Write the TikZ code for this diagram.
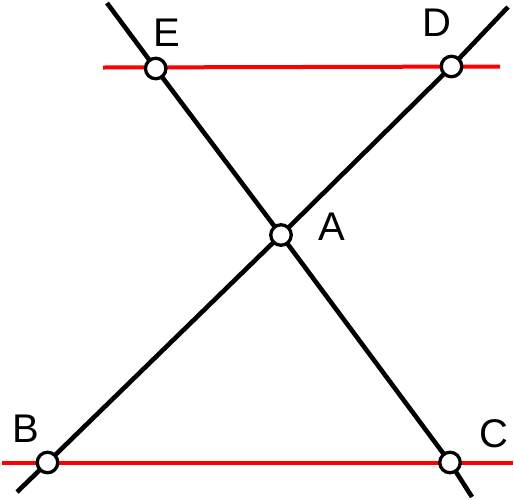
\documentclass[tikz,border=0pt]{standalone}
\usepackage{fontspec}
\setmainfont{Liberation Sans}
\begin{document}
\begin{tikzpicture}[x=1pt,y=-1pt,
  pt/.style={circle,draw=black,fill=white,line width=3.3pt,minimum size=20.5pt,inner sep=0pt},
  blk/.style={draw=black,line width=4.6pt},
  redl/.style={draw=red,line width=4pt},
  lbl/.style={font=\fontsize{40}{40}\selectfont,inner sep=0pt}]
\useasboundingbox (0,0) rectangle (514,499);
\coordinate (E) at (155.7,68.5);
\coordinate (D) at (451.5,66.5);
\coordinate (A) at (281,235);
\coordinate (B) at (47.5,462.5);
\coordinate (C) at (450,462.5);
\coordinate (t1) at (103,67.5);
\coordinate (t2) at (500,66.5);
\coordinate (b1) at (2,462.5);
\coordinate (b2) at (513,462.5);
\coordinate (l1a) at (17,492);
\coordinate (l1b) at (508,7);
\coordinate (l2a) at (107,3);
\coordinate (l2b) at (472,497);
\draw[redl] (t1) -- (t2);
\draw[redl] (b1) -- (b2);
\draw[blk] (l1a) -- (B) -- (A) -- (D) -- (l1b);
\draw[blk] (l2a) -- (E) -- (A) -- (C) -- (l2b);
\node[pt] (nE) at (E) {};
\node[pt] (nD) at (D) {};
\node[pt] (nA) at (A) {};
\node[pt] (nB) at (B) {};
\node[pt] (nC) at (C) {};
\node[lbl] (LE) at (167,33) {E};
\node[lbl] (LD) at (437,23) {D};
\node[lbl] (LA) at (332,227) {A};
\node[lbl] (LB) at (26,429) {B};
\node[lbl] (LC) at (494,434) {C};
\end{tikzpicture}
\end{document}
